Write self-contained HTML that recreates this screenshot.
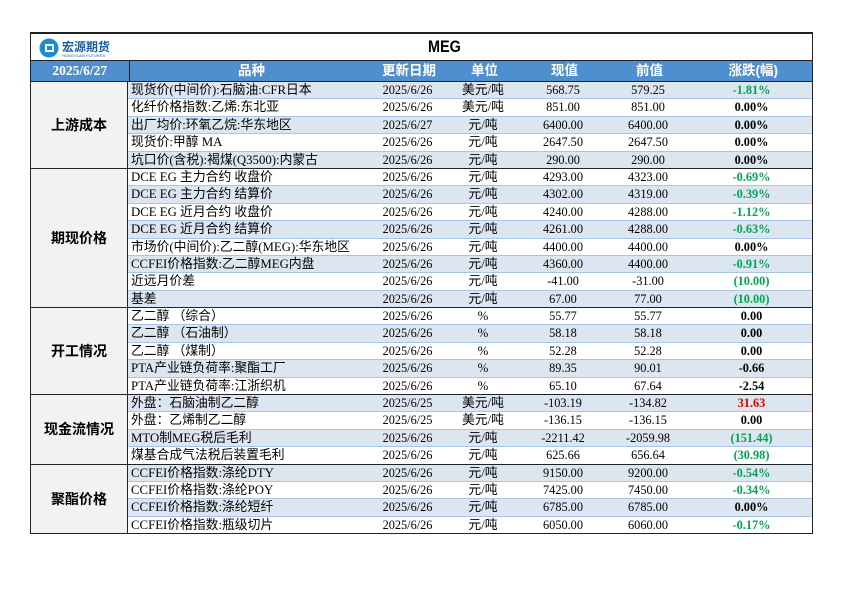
<!DOCTYPE html>
<html><head><meta charset="utf-8"><style>
body{margin:0;width:842px;height:595px;background:#fff;font-family:"Liberation Serif","Noto Serif CJK SC",serif;}
#t{position:absolute;left:30px;top:32px;width:781px;border:1.5px solid #222;border-top:2px solid #222;border-bottom:none;}
.title{height:26px;border-bottom:1px solid #222;position:relative;}
.title .m{position:absolute;left:397px;top:3px;font:bold 17px "Liberation Sans",sans-serif;transform:scaleX(0.85);transform-origin:left;}
.hdr{height:20px;background:#4f8fcf;display:flex;color:#fff;font:bold 13.5px "Liberation Sans","Noto Sans CJK SC",sans-serif;line-height:20px;border-bottom:1px solid #222;}
.hdr div{text-align:center}
.sec{display:flex;border-bottom:1.5px solid #222;}
.lab{width:96px;background:#f2f2f2;border-right:1.5px solid #222;display:flex;align-items:center;justify-content:center;font:bold 14px "Liberation Sans","Noto Sans CJK SC",sans-serif;}
.rows{flex:1}
.r{height:16.4px;line-height:16.4px;display:flex;font-size:12.3px;border-bottom:1px solid #a9c4e4;}
.r.b{background:#dce6f1}
.c1{width:241px;padding-left:3px;font-family:"Liberation Serif","Noto Sans CJK SC",sans-serif;font-size:12.8px;white-space:nowrap;overflow:hidden}
.c2{width:71px;text-align:center}
.c3{width:80px;text-align:center;font-family:"Liberation Serif","Noto Sans CJK SC",sans-serif;font-size:12.8px}
.c4{width:80px;text-align:center}
.c5{width:90px;text-align:center}
.c6{flex:1;text-align:center;font-weight:bold;padding-right:2px}
.g{color:#00a550}.rd{color:#e00000}
.logo{position:absolute;left:8px;top:3px;}
</style></head><body>
<div id="t">
<div class="title">
<svg class="logo" width="80" height="22"><circle cx="10" cy="11" r="9.5" fill="#1a8bd6"/><rect x="6" y="7" width="9" height="8" fill="#fff"/><rect x="8" y="9" width="5" height="4" fill="#1a8bd6"/><text x="23" y="14" font-family="Noto Sans CJK SC" font-weight="bold" font-size="12" fill="#1560a8">宏源期货</text><text x="23" y="20" font-family="Liberation Sans" font-size="4" fill="#1560a8">HONGYUAN FUTURES</text></svg>
<div class="m">MEG</div></div>
<div class="hdr"><div style="width:97.5px;border-right:1px solid #222;font-family:'Liberation Serif';">2025/6/27</div><div style="width:244px">品种</div><div style="width:71px">更新日期</div><div style="width:80px">单位</div><div style="width:80px">现值</div><div style="width:90px">前值</div><div style="flex:1">涨跌(幅)</div></div>

<div class="sec"><div class="lab">上游成本</div><div class="rows">
<div class="r b"><div class="c1">现货价(中间价):石脑油:CFR日本</div><div class="c2">2025/6/26</div><div class="c3">美元/吨</div><div class="c4">568.75</div><div class="c5">579.25</div><div class="c6 g">-1.81%</div></div>
<div class="r"><div class="c1">化纤价格指数:乙烯:东北亚</div><div class="c2">2025/6/26</div><div class="c3">美元/吨</div><div class="c4">851.00</div><div class="c5">851.00</div><div class="c6">0.00%</div></div>
<div class="r b"><div class="c1">出厂均价:环氧乙烷:华东地区</div><div class="c2">2025/6/27</div><div class="c3">元/吨</div><div class="c4">6400.00</div><div class="c5">6400.00</div><div class="c6">0.00%</div></div>
<div class="r"><div class="c1">现货价:甲醇 MA</div><div class="c2">2025/6/26</div><div class="c3">元/吨</div><div class="c4">2647.50</div><div class="c5">2647.50</div><div class="c6">0.00%</div></div>
<div class="r b" style="border-bottom:none"><div class="c1">坑口价(含税):褐煤(Q3500):内蒙古</div><div class="c2">2025/6/26</div><div class="c3">元/吨</div><div class="c4">290.00</div><div class="c5">290.00</div><div class="c6">0.00%</div></div>
</div></div>

<div class="sec"><div class="lab">期现价格</div><div class="rows">
<div class="r"><div class="c1">DCE EG 主力合约 收盘价</div><div class="c2">2025/6/26</div><div class="c3">元/吨</div><div class="c4">4293.00</div><div class="c5">4323.00</div><div class="c6 g">-0.69%</div></div>
<div class="r b"><div class="c1">DCE EG 主力合约 结算价</div><div class="c2">2025/6/26</div><div class="c3">元/吨</div><div class="c4">4302.00</div><div class="c5">4319.00</div><div class="c6 g">-0.39%</div></div>
<div class="r"><div class="c1">DCE EG 近月合约 收盘价</div><div class="c2">2025/6/26</div><div class="c3">元/吨</div><div class="c4">4240.00</div><div class="c5">4288.00</div><div class="c6 g">-1.12%</div></div>
<div class="r b"><div class="c1">DCE EG 近月合约 结算价</div><div class="c2">2025/6/26</div><div class="c3">元/吨</div><div class="c4">4261.00</div><div class="c5">4288.00</div><div class="c6 g">-0.63%</div></div>
<div class="r"><div class="c1">市场价(中间价):乙二醇(MEG):华东地区</div><div class="c2">2025/6/26</div><div class="c3">元/吨</div><div class="c4">4400.00</div><div class="c5">4400.00</div><div class="c6">0.00%</div></div>
<div class="r b"><div class="c1">CCFEI价格指数:乙二醇MEG内盘</div><div class="c2">2025/6/26</div><div class="c3">元/吨</div><div class="c4">4360.00</div><div class="c5">4400.00</div><div class="c6 g">-0.91%</div></div>
<div class="r"><div class="c1">近远月价差</div><div class="c2">2025/6/26</div><div class="c3">元/吨</div><div class="c4">-41.00</div><div class="c5">-31.00</div><div class="c6 g">(10.00)</div></div>
<div class="r b" style="border-bottom:none"><div class="c1">基差</div><div class="c2">2025/6/26</div><div class="c3">元/吨</div><div class="c4">67.00</div><div class="c5">77.00</div><div class="c6 g">(10.00)</div></div>
</div></div>

<div class="sec"><div class="lab">开工情况</div><div class="rows">
<div class="r"><div class="c1">乙二醇 （综合）</div><div class="c2">2025/6/26</div><div class="c3">%</div><div class="c4">55.77</div><div class="c5">55.77</div><div class="c6">0.00</div></div>
<div class="r b"><div class="c1">乙二醇 （石油制）</div><div class="c2">2025/6/26</div><div class="c3">%</div><div class="c4">58.18</div><div class="c5">58.18</div><div class="c6">0.00</div></div>
<div class="r"><div class="c1">乙二醇 （煤制）</div><div class="c2">2025/6/26</div><div class="c3">%</div><div class="c4">52.28</div><div class="c5">52.28</div><div class="c6">0.00</div></div>
<div class="r b"><div class="c1">PTA产业链负荷率:聚酯工厂</div><div class="c2">2025/6/26</div><div class="c3">%</div><div class="c4">89.35</div><div class="c5">90.01</div><div class="c6">-0.66</div></div>
<div class="r" style="border-bottom:none"><div class="c1">PTA产业链负荷率:江浙织机</div><div class="c2">2025/6/26</div><div class="c3">%</div><div class="c4">65.10</div><div class="c5">67.64</div><div class="c6">-2.54</div></div>
</div></div>

<div class="sec"><div class="lab">现金流情况</div><div class="rows">
<div class="r b"><div class="c1">外盘：石脑油制乙二醇</div><div class="c2">2025/6/25</div><div class="c3">美元/吨</div><div class="c4">-103.19</div><div class="c5">-134.82</div><div class="c6 rd">31.63</div></div>
<div class="r"><div class="c1">外盘：乙烯制乙二醇</div><div class="c2">2025/6/25</div><div class="c3">美元/吨</div><div class="c4">-136.15</div><div class="c5">-136.15</div><div class="c6">0.00</div></div>
<div class="r b"><div class="c1">MTO制MEG税后毛利</div><div class="c2">2025/6/26</div><div class="c3">元/吨</div><div class="c4">-2211.42</div><div class="c5">-2059.98</div><div class="c6 g">(151.44)</div></div>
<div class="r" style="border-bottom:none"><div class="c1">煤基合成气法税后装置毛利</div><div class="c2">2025/6/26</div><div class="c3">元/吨</div><div class="c4">625.66</div><div class="c5">656.64</div><div class="c6 g">(30.98)</div></div>
</div></div>

<div class="sec"><div class="lab">聚酯价格</div><div class="rows">
<div class="r b"><div class="c1">CCFEI价格指数:涤纶DTY</div><div class="c2">2025/6/26</div><div class="c3">元/吨</div><div class="c4">9150.00</div><div class="c5">9200.00</div><div class="c6 g">-0.54%</div></div>
<div class="r"><div class="c1">CCFEI价格指数:涤纶POY</div><div class="c2">2025/6/26</div><div class="c3">元/吨</div><div class="c4">7425.00</div><div class="c5">7450.00</div><div class="c6 g">-0.34%</div></div>
<div class="r b"><div class="c1">CCFEI价格指数:涤纶短纤</div><div class="c2">2025/6/26</div><div class="c3">元/吨</div><div class="c4">6785.00</div><div class="c5">6785.00</div><div class="c6">0.00%</div></div>
<div class="r" style="border-bottom:none"><div class="c1">CCFEI价格指数:瓶级切片</div><div class="c2">2025/6/26</div><div class="c3">元/吨</div><div class="c4">6050.00</div><div class="c5">6060.00</div><div class="c6 g">-0.17%</div></div>
</div></div>
</div>
</body></html>
